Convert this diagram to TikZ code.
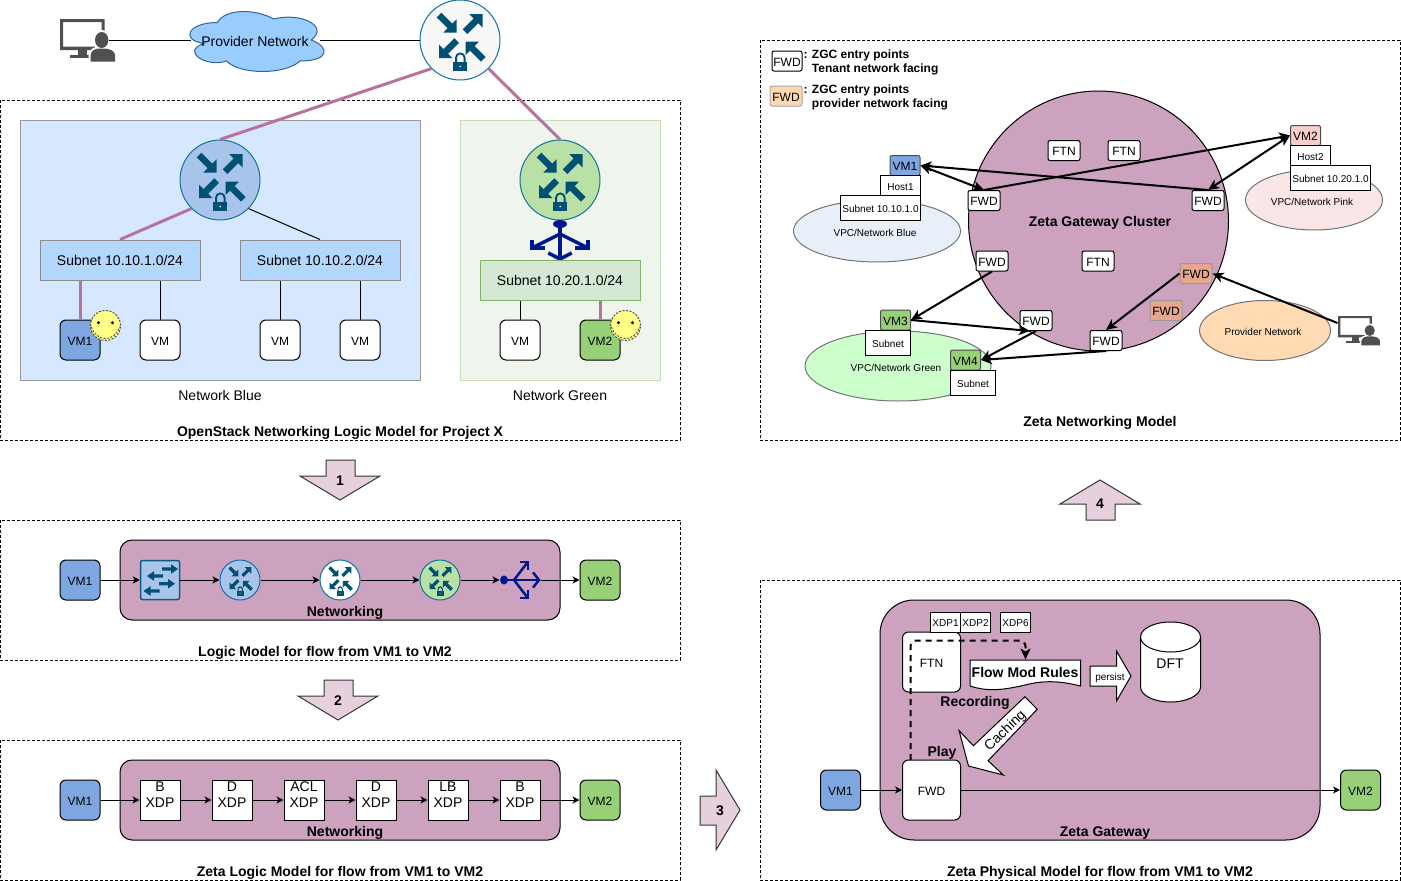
\documentclass[tikz,border=0pt]{standalone}
\usepackage{fontspec}
\setmainfont{Liberation Sans}
\usetikzlibrary{arrows.meta,shapes.geometric}

\definecolor{gwpurple}{HTML}{CDA2BE}
\definecolor{linkpink}{HTML}{B5739D}
\definecolor{iconblue}{HTML}{005073}
\definecolor{ringblue}{HTML}{10739E}
\definecolor{vmblue}{HTML}{7EA6E0}
\definecolor{vmgreen}{HTML}{97D077}
\definecolor{rtrblue}{HTML}{A9C4EB}
\definecolor{rtrgreen}{HTML}{B9E0A5}
\definecolor{usergray}{HTML}{505050}
\definecolor{splitblue}{HTML}{00188D}
\definecolor{panelblue}{HTML}{D5E8FF}
\definecolor{panelgreen}{HTML}{EFF5EC}
\definecolor{edgegreen}{HTML}{C5DEB8}
\definecolor{subnetblue}{HTML}{B3D7FF}
\definecolor{subnetgreen}{HTML}{D5E8D4}
\definecolor{subnetedge}{HTML}{82B366}
\definecolor{cloudblue}{HTML}{99CCFF}
\definecolor{cloudedge}{HTML}{366496}
\definecolor{smileyellow}{HTML}{FFFF88}
\definecolor{stepfill}{HTML}{E6D0DE}
\definecolor{fwdpeach}{HTML}{FFD8B2}
\definecolor{fwdsalmon}{HTML}{E5A78E}
\definecolor{vpcblue}{HTML}{E7EFF9}
\definecolor{vpcpink}{HTML}{FAE6E6}
\definecolor{vpcgreen}{HTML}{CCFFCC}
\definecolor{vpcorange}{HTML}{FFDAB3}
\definecolor{vmpink}{HTML}{F8CECC}

\newcommand{\iconarrow}[3]{\fill[iconblue,shift={(#1,#2)},rotate=#3] (0,-3.3) -- (15.5,-3.3) -- (15.5,-9.4) -- (25,0) -- (15.5,9.4) -- (15.5,3.3) -- (0,3.3) -- cycle;}
\newcommand{\swicon}[3]{\fill[iconblue,shift={(#1,#2)},rotate=#3] (0,-1.7) -- (9,-1.7) -- (9,-4.8) -- (16,0) -- (9,4.8) -- (9,1.7) -- (0,1.7) -- cycle;}

\tikzset{
    txtS/.style={font=\fontsize{10}{12}\selectfont},
    txtM/.style={font=\fontsize{12}{14}\selectfont},
    txtL/.style={font=\fontsize{14}{16}\selectfont},
    txtB/.style={font=\fontsize{14}{16}\selectfont\bfseries},
    framebox/.style={draw=black,line width=0.8pt,dash pattern=on 3pt off 2pt},
    panel/.style={draw,inner sep=0pt},
    subnetbox/.style={draw=#1,inner sep=0pt,minimum width=160,minimum height=40,txtL,text height=12.5pt,text depth=2pt},
    vmbox/.style={draw=black,fill=#1,rounded corners=6pt,inner sep=0pt,minimum width=40,minimum height=40,txtM,text height=10.6pt,text depth=0pt},
    vmtag/.style={draw=black!70,fill=#1,rounded corners=2pt,inner sep=0pt,minimum width=30,minimum height=20,txtM,text height=10.6pt,text depth=0pt},
    routernode/.style={circle,draw=ringblue,fill=#1,inner sep=0pt},
    gwbox/.style={draw=black,fill=gwpurple,inner sep=0pt},
    xdpbox/.style={draw=black,fill=white,inner sep=0pt,minimum width=40,minimum height=40,align=center,txtL,text height=14pt,text depth=0pt},
    xdptag/.style={draw=black,fill=white,inner sep=0pt,minimum width=30,minimum height=20,txtS,text height=9.2pt,text depth=0pt},
    zgcbox/.style={draw=black,fill=#1,rounded corners=2pt,inner sep=0pt,minimum width=32,minimum height=20,txtM,text height=10.6pt,text depth=0pt},
    whitetag/.style={draw=black,fill=white,inner sep=0pt,txtS,text height=9.5pt,text depth=0pt},
    vpc/.style={ellipse,draw=black!55,fill=#1,inner sep=0pt},
    flow/.style={-{Stealth[length=7pt,width=7pt,inset=2pt]},line width=1pt},
    bigflow/.style={line width=2pt,-{Stealth[length=11pt,width=10pt,inset=3pt]}},
    bothflow/.style={line width=2pt,{Stealth[length=11pt,width=10pt,inset=3pt]}-{Stealth[length=11pt,width=10pt,inset=3pt]}},
    pinklink/.style={draw=linkpink,line width=3pt},
    stepshape/.style={draw=black!80,fill=stepfill,line width=1pt},
    smiley/.style={circle,draw=black!70,fill=smileyellow,dash pattern=on 2pt off 1.5pt,inner sep=0pt,minimum size=30},
    pics/routericon/.style={code={
        \iconarrow{-21}{-25}{-45}
        \iconarrow{5}{-8.3}{45}
        \iconarrow{-3.3}{0.5}{225}
        \iconarrow{23.3}{19.3}{135}
        \fill[iconblue] (-6.7,21.7) rectangle (7.3,31);
        \fill[iconblue] (-5,22) -- (-5,17.7) arc[start angle=180,end angle=360,radius=5.3] -- (5.6,22) -- (3.6,22) -- (3.6,17.7) arc[start angle=360,end angle=180,radius=3.3] -- (-3,22) -- cycle;
        \fill[white] (0.3,26.5) circle[radius=0.9];
    }},
    pics/switchicon/.style={code={
        \swicon{2}{-11}{0}
        \swicon{3}{-4}{180}
        \swicon{-1}{3.7}{0}
        \swicon{-0.5}{11}{180}
    }},
    pics/splittericon/.style={code={
        \fill (0,-16) ellipse[x radius=7,y radius=4];
        \draw (0,-16) -- (0,19);
        \draw (-11.7,13) -- (0,19) -- (11.7,13);
        \draw (-15,8) -- (-28,8) -- (-28,0);
        \draw (15,8) -- (28,8) -- (28,0);
        \draw (0,-6) -- (-28,8);
        \draw (0,-6) -- (28,8);
    }},
    pics/usericon/.style={code={
        \fill[usergray,even odd rule] (0,0) rectangle (44.5,31) (3,3) rectangle (41.5,27.5);
        \fill[usergray] (18,31) rectangle (27,36);
        \fill[usergray] (10,36) rectangle (35,39);
        \fill[white] (41.7,21) ellipse[x radius=8.7,y radius=10];
        \fill[white] (28.7,42.7) -- (28.7,36) .. controls (28.7,30) and (35,28) .. (38,27.5) -- (45,27.5) .. controls (50,28) and (57,30) .. (57,36) -- (57,42.7) -- cycle;
        \fill[usergray] (41.7,21) ellipse[x radius=6.7,y radius=8];
        \fill[usergray] (30.7,42.7) -- (30.7,36) .. controls (30.7,32) and (35,30) .. (38,29.5) -- (45,29.5) .. controls (50,30) and (55,32) .. (55,36) -- (55,42.7) -- cycle;
    }},
    pics/smileface/.style={code={
        \fill[black] (-7,-2.7) circle[radius=1.6];
        \fill[black] (7,-2.7) circle[radius=1.6];
        \draw[black!75,dash pattern=on 2pt off 1.5pt,line width=0.8pt] (-14,1.3) .. controls (-9,17) and (9,17) .. (14,1.3);
    }},
}

\begin{document}
\begin{tikzpicture}[x=1pt,y=-1pt,line width=1pt]
    \useasboundingbox (0,0) rectangle (1401,881);

    % Dashed frames of the five models
    \draw[framebox] (0,100) rectangle (680,440);
    \draw[framebox] (0,520) rectangle (680,660);
    \draw[framebox] (0,740) rectangle (680,880);
    \draw[framebox] (760,40) rectangle (1400,440);
    \draw[framebox] (760,580) rectangle (1400,880);

    % Network panels
    \node[panel,draw=black!40,fill=panelblue,minimum width=400,minimum height=260] (netblue) at (220,250) {};
    \node[panel,draw=edgegreen,fill=panelgreen,minimum width=200,minimum height=260] (netgreen) at (560,250) {};

    % Provider side: user, cloud and top router
    \node[inner sep=0pt,minimum width=48,minimum height=43] (userleft) at (84,40) {};
    \pic at (60,19) {usericon};
    \draw[fill=cloudblue,draw=cloudedge,shift={(180,5)},xscale=150,yscale=70]
        (0.25,0.25) .. controls (0.05,0.25) and (0,0.5) .. (0.16,0.55)
        .. controls (0,0.66) and (0.18,0.9) .. (0.31,0.8)
        .. controls (0.4,1) and (0.7,1) .. (0.8,0.8)
        .. controls (1,0.8) and (1,0.6) .. (0.875,0.5)
        .. controls (1,0.3) and (0.8,0.1) .. (0.625,0.2)
        .. controls (0.5,0.05) and (0.3,0.05) .. (0.25,0.25) -- cycle;
    \node[inner sep=0pt,minimum width=128,minimum height=60,txtL,text height=12.2pt,text depth=0pt] (provcloud) at (255,40) {Provider Network};
    \node[routernode=white!97!black,minimum size=80] (rtrtop) at (460,40) {};
    \pic at (rtrtop) {routericon};
    \draw (userleft.east) -- (provcloud.west);
    \draw (provcloud.east) -- (rtrtop.west);

    % Routers of the two networks
    \node[routernode=rtrblue,minimum size=80] (routerblue) at (220,180) {};
    \pic at (routerblue) {routericon};
    \node[routernode=rtrgreen,minimum size=80] (routergreen) at (560,180) {};
    \pic at (routergreen) {routericon};
    \draw[pinklink] (rtrtop.225) -- (routerblue.north);
    \draw[pinklink] (rtrtop.315) -- (routergreen.north);

    % Splitter under the green router
    \node[inner sep=0pt,minimum width=58,minimum height=40] (splitgreen) at (560,240) {};
    \pic[draw=splitblue,fill=splitblue,line width=3.5pt] at (splitgreen) {splittericon};

    % Subnets
    \node[subnetbox=black!45,fill=subnetblue] (subnetA) at (120,260) {Subnet 10.10.1.0/24};
    \node[subnetbox=black!45,fill=subnetblue] (subnetB) at (320,260) {Subnet 10.10.2.0/24};
    \node[subnetbox=subnetedge,fill=subnetgreen] (subnetC) at (560,280) {Subnet 10.20.1.0/24};
    \draw[pinklink] (routerblue.225) -- (subnetA.north);
    \draw (routerblue.315) -- (subnetB.north);

    % VMs
    \node[vmbox=vmblue] (vmA) at (80,340) {VM1};
    \node[vmbox=white] (vmB) at (160,340) {VM};
    \node[vmbox=white] (vmC) at (280,340) {VM};
    \node[vmbox=white] (vmD) at (360,340) {VM};
    \node[vmbox=white] (vmE) at (520,340) {VM};
    \node[vmbox=vmgreen] (vmF) at (600,340) {VM2};
    \draw[pinklink] (vmA.north) -- (vmA.north |- subnetA.south);
    \draw (vmB.north) -- (vmB.north |- subnetA.south);
    \draw (vmC.north) -- (vmC.north |- subnetB.south);
    \draw (vmD.north) -- (vmD.north |- subnetB.south);
    \draw (vmE.north) -- (vmE.north |- subnetC.south);
    \draw[pinklink] (vmF.north) -- (vmF.north |- subnetC.south);

    % Smileys
    \node[smiley] (smileA) at (105.5,325.5) {};
    \pic at (smileA) {smileface};
    \node[smiley] (smileB) at (625.5,325.5) {};
    \pic at (smileB) {smileface};

    % Labels of the first model
    \node[txtL] (lblblue) at (220,395) {Network Blue};
    \node[txtL] (lblgreen) at (560,395) {Network Green};
    \node[txtB] (lblopenstack) at (340,433) {OpenStack Networking Logic Model for Project X};

    % Step arrows
    \draw[stepshape] (326,460) -- (355,460) -- (355,476) -- (380,476) -- (340,500) -- (300,476) -- (326,476) -- cycle;
    \node[txtB] (stepone) at (340,481) {1};
    \draw[stepshape] (324,680) -- (353,680) -- (353,696) -- (378,696) -- (338,720) -- (298,696) -- (324,696) -- cycle;
    \node[txtB] (steptwo) at (338,701) {2};
    \draw[stepshape] (700,796) -- (716,796) -- (716,770) -- (740,810) -- (716,850) -- (716,825) -- (700,825) -- cycle;
    \node[txtB] (stepthree) at (720,811) {3};
    \draw[stepshape] (1086,520) -- (1115,520) -- (1115,504) -- (1140,504) -- (1100,480) -- (1060,504) -- (1086,504) -- cycle;
    \node[txtB] (stepfour) at (1100,504) {4};

    % Logic model row
    \node[gwbox,rounded corners=12pt,minimum width=440,minimum height=80] (logicgw) at (340,580) {};
    \node[txtB] (lbllogicgw) at (345,613) {Networking};
    \node[vmbox=vmblue] (logicvmA) at (80,580) {VM1};
    \node[draw=ringblue!80!black,fill=rtrblue,line width=1.5pt,rounded corners=2pt,inner sep=0pt,minimum size=39] (logicswitch) at (160,580) {};
    \pic at (logicswitch) {switchicon};
    \node[routernode=rtrblue,minimum size=40] (logicrtrA) at (240,580) {};
    \pic[scale=0.5] at (logicrtrA) {routericon};
    \node[routernode=white,minimum size=40] (logicrtrB) at (340,580) {};
    \pic[scale=0.5] at (logicrtrB) {routericon};
    \node[routernode=rtrgreen,minimum size=40] (logicrtrC) at (440,580) {};
    \pic[scale=0.5] at (logicrtrC) {routericon};
    \node[inner sep=0pt,minimum size=40] (logicsplit) at (520,580) {};
    \pic[rotate=90,xscale=0.65,draw=splitblue,fill=splitblue,line width=2.5pt] at (logicsplit) {splittericon};
    \node[vmbox=vmgreen] (logicvmB) at (600,580) {VM2};
    \draw[flow] (logicvmA) -- (logicswitch);
    \draw[flow] (logicswitch) -- (logicrtrA);
    \draw[flow] (logicrtrA) -- (logicrtrB);
    \draw[flow] (logicrtrB) -- (logicrtrC);
    \draw[flow] (logicrtrC) -- (logicsplit);
    \draw[flow] (logicsplit) -- (logicvmB);
    \node[txtB] (lbllogic) at (325,653) {Logic Model for flow from VM1 to VM2};

    % Zeta logic model row
    \node[gwbox,rounded corners=12pt,minimum width=440,minimum height=80] (xdpgw) at (340,800) {};
    \node[txtB] (lblxdpgw) at (345,833) {Networking};
    \node[vmbox=vmblue] (xdpvmA) at (80,800) {VM1};
    \node[xdpbox] (xdpA) at (160,800) {B\\XDP};
    \node[xdpbox] (xdpB) at (232,800) {D\\XDP};
    \node[xdpbox] (xdpC) at (304,800) {ACL\\XDP};
    \node[xdpbox] (xdpD) at (376,800) {D\\XDP};
    \node[xdpbox] (xdpE) at (448,800) {LB\\XDP};
    \node[xdpbox] (xdpF) at (520,800) {B\\XDP};
    \node[vmbox=vmgreen] (xdpvmB) at (600,800) {VM2};
    \draw[flow] (xdpvmA) -- (xdpA);
    \draw[flow] (xdpA) -- (xdpB);
    \draw[flow] (xdpB) -- (xdpC);
    \draw[flow] (xdpC) -- (xdpD);
    \draw[flow] (xdpD) -- (xdpE);
    \draw[flow] (xdpE) -- (xdpF);
    \draw[flow] (xdpF) -- (xdpvmB);
    \node[txtB] (lblxdp) at (340,873) {Zeta Logic Model for flow from VM1 to VM2};

    % Legend of the networking model
    \node[zgcbox=white,minimum width=30,minimum height=20] (legendA) at (787,61) {FWD};
    \node[zgcbox=fwdpeach,draw=black!35,minimum height=20] (legendB) at (786,96) {FWD};
    \node[anchor=north west,inner sep=0pt,align=left,font=\fontsize{12}{14}\selectfont\bfseries] (legendtxtA) at (803,49) {: ZGC entry points\\\hphantom{: }Tenant network facing};
    \node[anchor=north west,inner sep=0pt,align=left,font=\fontsize{12}{14}\selectfont\bfseries] (legendtxtB) at (803,84) {: ZGC entry points\\\hphantom{: }provider network facing};

    % Tenant and provider networks
    \node[vpc=vpcblue,minimum width=167,minimum height=62] (netellblue) at (877,231) {};
    \node[vpc=vpcpink,minimum width=137,minimum height=60] (netellpink) at (1314,200) {};
    \node[vpc=vpcgreen,minimum width=186,minimum height=70] (netellgreen) at (898,366) {};
    \node[vpc=vpcorange,minimum width=131,minimum height=60] (netellprov) at (1265,330.5) {};
    \node[txtS] (lblblue2) at (875,233) {VPC/Network Blue};
    \node[txtS] (lblpink) at (1312,202) {VPC/Network Pink};
    \node[txtS] (lblgreen2) at (896,368) {VPC/Network Green};
    \node[txtS] (lblprov) at (1263,332) {Provider Network};

    % Gateway cluster
    \node[ellipse,draw=black,fill=gwpurple,inner sep=0pt,minimum width=260,minimum height=260] (cluster) at (1098.5,221) {};
    \node[txtB] (lblcluster) at (1100,223) {Zeta Gateway Cluster};
    \node[zgcbox=white] (ftnA) at (1064,150.5) {FTN};
    \node[zgcbox=white] (ftnB) at (1124,150.5) {FTN};
    \node[zgcbox=white] (ftnC) at (1098,261) {FTN};
    \node[zgcbox=white] (fwdA) at (984,200.5) {FWD};
    \node[zgcbox=white] (fwdB) at (1208,200.5) {FWD};
    \node[zgcbox=white] (fwdC) at (992,261) {FWD};
    \node[zgcbox=white] (fwdD) at (1036,320.5) {FWD};
    \node[zgcbox=white] (fwdE) at (1106,340.5) {FWD};
    \node[zgcbox=fwdsalmon,draw=black!40] (fwdF) at (1196,273.5) {FWD};
    \node[zgcbox=fwdsalmon,draw=black!40] (fwdG) at (1166,310.5) {FWD};

    % Hosts and their VMs
    \node[vmtag=vmblue] (zetavmA) at (905,165.5) {VM1};
    \node[whitetag,minimum width=40,minimum height=20] (hostA) at (900.5,185.5) {Host1};
    \node[whitetag,minimum width=80,minimum height=25] (zsubnetA) at (880.5,208) {Subnet 10.10.1.0};
    \node[vmtag=vmpink] (zetavmB) at (1305.5,135.5) {VM2};
    \node[whitetag,minimum width=40,minimum height=20] (hostB) at (1310.5,155.5) {Host2};
    \node[whitetag,minimum width=80,minimum height=25] (zsubnetB) at (1330.5,178) {Subnet 10.20.1.0};
    \node[vmtag=vmgreen] (zetavmC) at (895.5,320) {VM3};
    \node[whitetag,minimum width=45,minimum height=25] (zsubnetC) at (888,343) {Subnet};
    \node[vmtag=vmgreen] (zetavmD) at (965.5,360) {VM4};
    \node[whitetag,minimum width=45,minimum height=25] (zsubnetD) at (973,383) {Subnet};
    \node[inner sep=0pt,minimum width=43,minimum height=30] (userright) at (1359.5,331) {};
    \pic[xscale=0.76,yscale=0.69] at (1338,316) {usericon};

    % Flows through the cluster
    \draw[bothflow] (zetavmA.east) -- (fwdA.north);
    \draw[bigflow] (fwdA.north) -- (zetavmB.west);
    \draw[bothflow] (zetavmB.west) -- (fwdB.north);
    \draw[bigflow] (fwdB.north) -- (zetavmA.east);
    \draw[bigflow] (fwdC.south) -- (zetavmC.east);
    \draw[bigflow] (zetavmC.east) -- (fwdD.240);
    \draw[bigflow] (fwdD.south) -- (zetavmD.east);
    \draw[bigflow] (fwdE.south) -- (zetavmD.east);
    \draw[bigflow] (fwdF.west) -- (fwdE.north);
    \draw[bigflow] (userright.160) -- (fwdF.east);
    \node[txtB] (lblzeta) at (1100,423) {Zeta Networking Model};

    % Physical model
    \node[gwbox,rounded corners=34pt,minimum width=440,minimum height=240] (physgw) at (1100,720) {};
    \node[txtB] (lblphysgw) at (1105,833) {Zeta Gateway};
    \node[vmbox=vmblue] (physvmA) at (840.5,790) {VM1};
    \node[vmbox=vmgreen] (physvmB) at (1360.5,790) {VM2};
    \node[vmbox=white,minimum width=58,minimum height=60] (physftn) at (931.5,662) {FTN};
    \node[vmbox=white,minimum width=58,minimum height=60] (physfwd) at (931.5,790) {FWD};
    \node[xdptag] (xdpone) at (945.5,622) {XDP1};
    \node[xdptag] (xdptwo) at (975.5,622) {XDP2};
    \node[xdptag] (xdpsix) at (1015.5,622) {XDP6};

    % Flow rule document
    \draw[fill=white] (970,660) -- (1080.5,660) -- (1080.5,686) .. controls (1060,681) and (1045,680) .. (1025,685) .. controls (1000,691) and (985,691) .. (970,686) -- cycle;
    \node[inner sep=0pt,minimum width=111,minimum height=30] (rules) at (1025.5,675) {};
    \node[txtB] (rulestxt) at (1025,672) {Flow Mod Rules};

    % Persist arrow and flow table
    \draw[fill=white] (1090,666) -- (1116.5,666) -- (1116.5,651) -- (1131,676) -- (1116.5,701) -- (1116.5,686) -- (1090,686) -- cycle;
    \node[txtS] (persisttxt) at (1110,678) {persist};
    \draw[fill=white] (1140.5,637) -- (1140.5,687) arc[x radius=30,y radius=15,start angle=180,end angle=0] -- (1200.5,637) arc[x radius=30,y radius=15,start angle=0,end angle=-180] -- cycle;
    \draw (1140.5,637) arc[x radius=30,y radius=15,start angle=180,end angle=0];
    \node[txtL] (dfttxt) at (1170,664) {DFT};

    % Caching arrow
    \draw[fill=white] (1024.9,696.7) -- (1037.2,709.3) -- (988.1,760.7) -- (1003.3,775) -- (968.5,766) -- (959.1,730.7) -- (973.4,745.7) -- cycle;
    \node[txtL,rotate=44] (cachingtxt) at (1005.5,731) {Caching};

    % Recording path
    \coordinate (fwdtap) at (910.5,760);
    \coordinate (dashturn) at (1025.5,640.5);
    \draw[bigflow,dash pattern=on 6pt off 5pt,rounded corners=6pt] (fwdtap) |- (dashturn) -- (rules.north);

    % Physical flow
    \draw[flow] (physvmA) -- (physfwd);
    \draw[flow] (physfwd) -- (physvmB);
    \node[txtB] (lblrecording) at (975,703) {Recording};
    \node[txtB] (lblplay) at (942,753) {Play};
    \node[txtB] (lblphys) at (1100,873) {Zeta Physical Model for flow from VM1 to VM2};
\end{tikzpicture}
\end{document}
